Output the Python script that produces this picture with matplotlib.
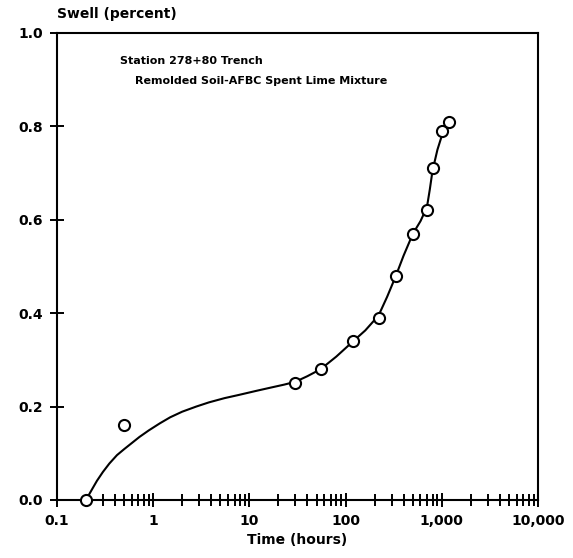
# Swell vs time, remolded soil / AFBC spent lime mixture
import matplotlib
matplotlib.use("Agg")
import matplotlib.pyplot as plt
from matplotlib.ticker import LogLocator, NullFormatter

# Measured points
tempo = [0.2, 0.5, 30, 55, 120, 220, 330, 500, 700, 800, 1000, 1200]
swell = [0.0, 0.16, 0.25, 0.28, 0.34, 0.39, 0.48, 0.57, 0.62, 0.71, 0.79, 0.81]

# Fitted curve
curva_tempo = [0.2, 0.23, 0.26, 0.3, 0.35, 0.42, 0.5, 0.6, 0.72, 0.9, 1.17, 1.5,
               2.0, 2.8, 3.8, 5.5, 7.8, 12, 17, 23, 30, 40, 55, 80, 120, 160,
               220, 270, 330, 400, 500, 600, 700, 750, 800, 900, 1000, 1100]
curva_swell = [0.0, 0.022, 0.041, 0.060, 0.078, 0.096, 0.109, 0.122, 0.135,
               0.149, 0.164, 0.177, 0.189, 0.200, 0.209, 0.218, 0.225, 0.234,
               0.241, 0.247, 0.253, 0.265, 0.28, 0.307, 0.34, 0.363, 0.395,
               0.435, 0.478, 0.523, 0.57, 0.597, 0.627, 0.665, 0.705, 0.75,
               0.78, 0.80]

# Tick labels
x_ticks = [0.1, 1, 10, 100, 1000, 10000]
x_labels = ["0.1", "1", "10", "100", "1,000", "10,000"]
y_ticks = [0.0, 0.2, 0.4, 0.6, 0.8, 1.0]
y_labels = ["0.0", "0.2", "0.4", "0.6", "0.8", "1.0"]

fig = plt.figure(figsize=(5.73, 5.58), dpi=100)
ax = fig.add_axes([0.0995, 0.104, 0.8395, 0.837])

ax.plot(curva_tempo, curva_swell, color="black", linewidth=1.5)
ax.plot(tempo, swell, linestyle="none", marker="o", markersize=8,
        markerfacecolor="white", markeredgecolor="black", markeredgewidth=1.5,
        clip_on=False, zorder=5)

ax.set_xscale("log")
ax.set_xlim(0.1, 10000)
ax.set_ylim(0, 1.0)

ax.set_xticks(x_ticks)
ax.set_xticklabels(x_labels)
ax.xaxis.set_minor_locator(LogLocator(base=10, subs=range(2, 10)))
ax.xaxis.set_minor_formatter(NullFormatter())
ax.set_yticks(y_ticks)
ax.set_yticklabels(y_labels)

ax.tick_params(axis="both", which="major", direction="inout", length=10,
               width=1.4, labelsize=10, pad=5)
ax.tick_params(axis="x", which="minor", direction="inout", length=9, width=1.4)
for lab in ax.get_xticklabels() + ax.get_yticklabels():
    lab.set_fontweight("bold")

for sp in ax.spines.values():
    sp.set_linewidth(1.5)

ax.set_xlabel("Time (hours)", fontsize=10, fontweight="bold", labelpad=4)
ax.text(0.0, 1.025, "Swell (percent)", transform=ax.transAxes, fontsize=10,
        fontweight="bold", ha="left", va="bottom")

ax.text(0.131, 0.94, "Station 278+80 Trench", transform=ax.transAxes,
        fontsize=8, fontweight="bold", family=["Liberation Sans Narrow", "DejaVu Sans"],
        ha="left", va="center")
ax.text(0.162, 0.898, "Remolded Soil-AFBC Spent Lime Mixture", transform=ax.transAxes,
        fontsize=8, fontweight="bold", family=["Liberation Sans Narrow", "DejaVu Sans"],
        ha="left", va="center")

plt.savefig("out.png", dpi=100)
